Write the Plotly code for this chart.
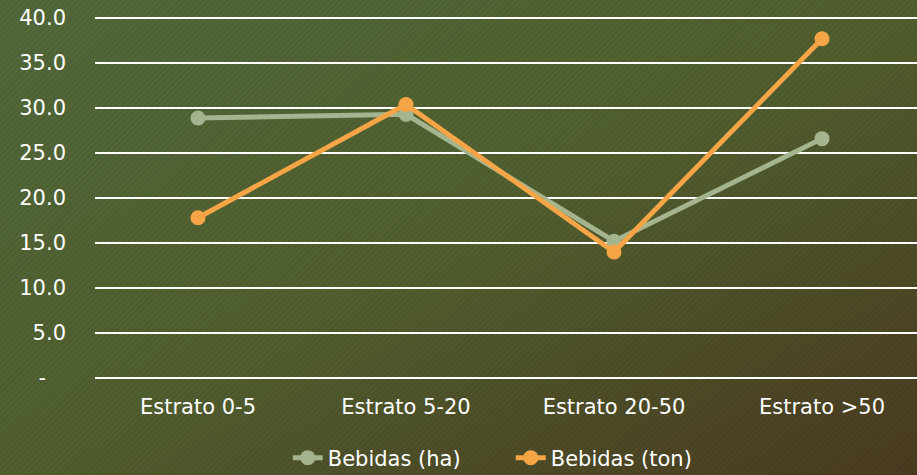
import base64
import plotly.graph_objects as go

categories = ["Estrato 0-5", "Estrato 5-20", "Estrato 20-50", "Estrato >50"]
bebidas_ha = [28.9, 29.3, 15.2, 26.6]
bebidas_ton = [17.8, 30.4, 14.0, 37.7]
y_tickvals = [0, 5, 10, 15, 20, 25, 30, 35, 40]
y_ticktext = ["-\u00a0\u00a0\u00a0", "5.0", "10.0", "15.0", "20.0", "25.0", "30.0", "35.0", "40.0"]

W, H = 917, 475
ML, MR, MT, MB = 95, 0, 17, 96
PW, PH = W - ML - MR, H - MT - MB

svg = (
    "<svg xmlns='http://www.w3.org/2000/svg' width='917' height='475' viewBox='0 0 917 475' preserveAspectRatio='none'>"
    "<defs><linearGradient id='g' x1='0' y1='0' x2='1' y2='1'>"
    "<stop offset='0' stop-color='#536a3b'/>"
    "<stop offset='0.5' stop-color='#52602f'/>"
    "<stop offset='1' stop-color='#4b3b21'/>"
    "</linearGradient>"
    "<pattern id='p' width='4.2' height='4.2' patternUnits='userSpaceOnUse' patternTransform='rotate(45)'>"
    "<rect width='2.1' height='4.2' fill='black' fill-opacity='0.07'/></pattern></defs>"
    "<rect width='917' height='475' fill='url(#g)'/>"
    "<rect width='917' height='475' fill='url(#p)'/></svg>"
)
bg_src = "data:image/svg+xml;base64," + base64.b64encode(svg.encode()).decode()

GREEN = "#a3b48f"
ORANGE = "#f5a446"
FONT = "DejaVu Sans"
FS = 21

fig = go.Figure()
fig.add_trace(go.Scatter(
    x=categories, y=bebidas_ha, name="Bebidas (ha)", mode="lines+markers",
    line=dict(color=GREEN, width=5), marker=dict(color=GREEN, size=15),
))
fig.add_trace(go.Scatter(
    x=categories, y=bebidas_ton, name="Bebidas (ton)", mode="lines+markers",
    line=dict(color=ORANGE, width=5), marker=dict(color=ORANGE, size=15),
))

yr = [-0.12, 40.12]
fig.update_layout(
    width=W, height=H,
    margin=dict(l=ML, r=MR, t=MT, b=MB, pad=0, autoexpand=False),
    paper_bgcolor="#4f5a30",
    plot_bgcolor="rgba(0,0,0,0)",
    font=dict(family=FONT, size=FS, color="white"),
    showlegend=True,
    legend=dict(orientation="h", xref="container", yref="container",
                x=0.557, xanchor="center", y=1 - 458 / H, yanchor="middle",
                entrywidth=178, entrywidthmode="pixels",
                font=dict(size=FS, color="white"), bgcolor="rgba(0,0,0,0)"),
    images=[dict(source=bg_src, xref="paper", yref="paper",
                 x=-ML / PW, y=1 + MT / PH, sizex=W / PW, sizey=H / PH,
                 xanchor="left", yanchor="top", sizing="stretch", layer="below")],
    xaxis=dict(type="category", range=[-(198 - 95) / 208, 3 + 95 / 208],
               showgrid=False, zeroline=False, showline=False,
               tickfont=dict(size=FS, color="white"), ticks="", ticklabelstandoff=13),
    yaxis=dict(range=yr, tickvals=y_tickvals, ticktext=y_ticktext,
               showgrid=True, gridcolor="white", gridwidth=2, zeroline=False,
               showline=False, ticks="", tickfont=dict(size=FS, color="white"),
               ticklabelstandoff=28),
)

fig.write_html(
    "out.html",
    config={"displayModeBar": False},
    post_script="document.body.style.margin='0';document.body.style.overflow='hidden';",
)
